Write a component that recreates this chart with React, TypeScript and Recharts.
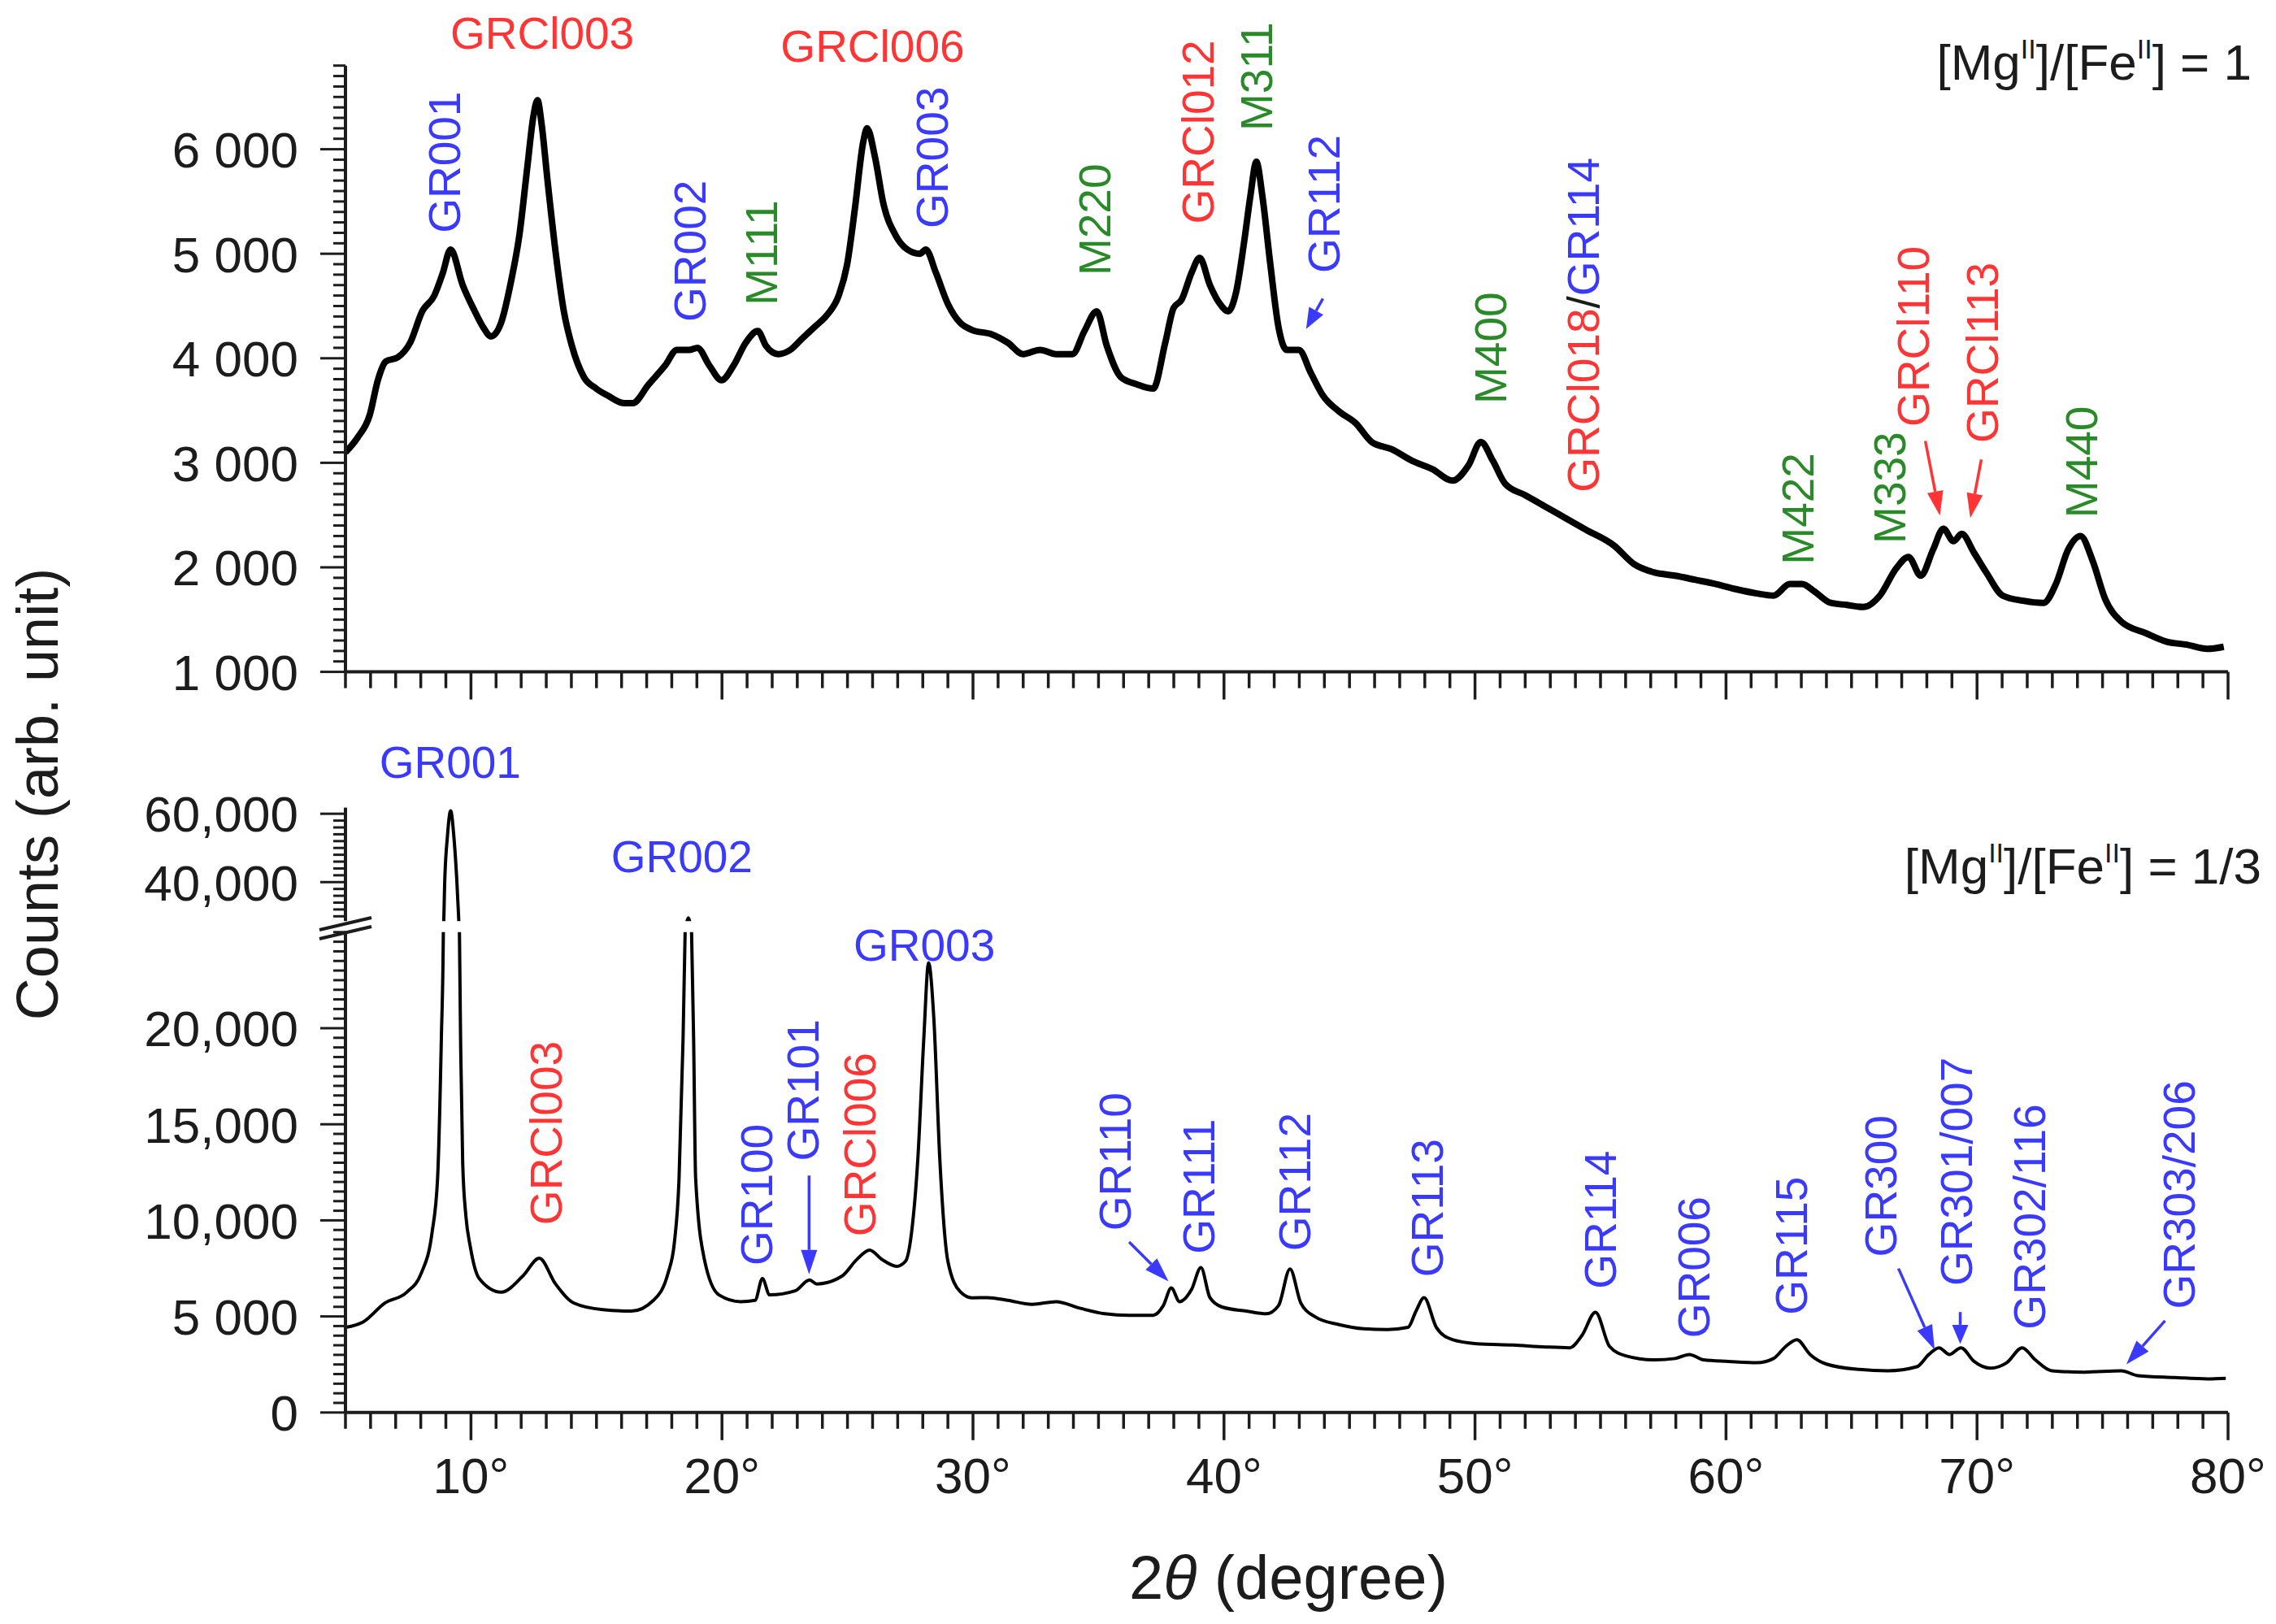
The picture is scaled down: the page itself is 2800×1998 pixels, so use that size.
import React from "react";
import { LineChart, Line, XAxis, YAxis, ReferenceDot, ReferenceLine } from "recharts";

const FONT = '"Liberation Sans", Arial, Helvetica, sans-serif';
const INK = "#1c1c1c";
const BLUE = "#3a3aff";
const RED = "#ff3434";
const GREEN = "#2a8a2a";

// [Mg]/[Fe] = 1 pattern (upper panel)
const TOP_2THETA = [
  5.0, 5.48, 5.97, 6.29, 6.61, 7.09, 7.58, 8.06, 8.54, 8.87, 9.19, 9.67, 10.15, 10.48, 10.8, 11.2, 11.6, 11.93,
  12.25, 12.49, 12.65, 12.81, 13.05, 13.38, 13.7, 14.02, 14.5, 14.99, 15.47, 16.1, 16.44, 17.08, 17.73, 18.21,
  18.69, 19.02, 19.5, 19.98, 20.46, 20.95, 21.43, 21.75, 22.24, 22.72, 23.2, 23.69, 24.17, 24.65, 24.98, 25.3,
  25.62, 25.78, 26.1, 26.43, 26.91, 27.39, 27.88, 28.12, 28.52, 29.0, 29.49, 29.97, 30.74, 31.38, 32.0, 32.67,
  33.31, 33.96, 34.44, 34.93, 35.33, 35.89, 36.54, 37.18, 37.66, 37.99, 38.31, 38.71, 39.03, 39.44, 39.84, 40.16,
  40.48, 40.8, 41.05, 41.29, 41.53, 41.85, 42.17, 42.5, 42.98, 43.46, 43.95, 44.59, 45.24, 45.88, 46.68, 47.49,
  48.3, 49.1, 49.75, 50.23, 50.71, 51.2, 52.0, 52.81, 53.61, 54.42, 55.53, 56.34, 57.16, 57.97, 58.79, 59.6,
  60.42, 61.23, 61.89, 62.54, 63.03, 63.52, 64.17, 64.82, 65.47, 66.13, 66.78, 67.27, 67.76, 68.25, 68.66, 69.06,
  69.39, 69.88, 70.37, 71.02, 71.84, 72.65, 73.14, 73.63, 74.12, 74.61, 75.1, 75.75, 76.73, 77.54, 78.36, 79.17,
  79.83,
];
const TOP_COUNTS = [
  3100, 3240, 3460, 3790, 3970, 4010, 4150, 4450, 4600, 4810, 5040, 4700, 4450, 4300, 4210, 4340, 4740, 5180,
  5840, 6320, 6470, 6250, 5700, 5000, 4450, 4120, 3820, 3710, 3640, 3570, 3570, 3750, 3930, 4080,
  4080, 4100, 3930, 3790, 3930, 4150, 4260, 4120, 4040, 4080, 4190, 4300, 4410, 4600, 4890, 5440,
  6060, 6200, 5920, 5480, 5180, 5040, 5000, 5040, 4820, 4520, 4340, 4270, 4230, 4150, 4040, 4080,
  4040, 4040, 4260, 4450, 4120, 3820, 3750, 3710, 4150, 4480, 4560, 4820, 4960, 4700, 4520, 4450,
  4630, 5110, 5550, 5880, 5550, 4890, 4300, 4080, 4080, 3860, 3640, 3490, 3380, 3200, 3130, 3020,
  2940, 2830, 2980, 3200, 3020, 2800, 2690, 2580, 2470, 2360, 2210, 2030, 1950, 1920, 1880, 1840,
  1790, 1750, 1730, 1840, 1840, 1770, 1660, 1640, 1620, 1730, 1990, 2100, 1920, 2170, 2370, 2250,
  2320, 2140, 1950, 1730, 1680, 1660, 1840, 2170, 2300, 2060, 1700, 1480, 1370, 1290, 1260, 1220,
  1240,
];

// [Mg]/[Fe] = 1/3 pattern (lower panel, broken axis)
const BOT_2THETA = [
  5.0, 5.7, 6.57, 7.44, 8.02, 8.45, 8.67, 8.82, 8.9, 8.96, 9.06, 9.19, 9.32, 9.43, 9.54, 9.59, 9.67, 9.8, 9.97,
  10.33, 11.2, 12.07, 12.72, 13.37, 14.09, 15.25, 16.4, 17.27, 17.85, 18.1, 18.29, 18.45, 18.53, 18.66, 18.79,
  18.87, 18.95, 19.3, 19.88, 20.74, 21.32, 21.61, 21.9, 22.91, 23.49, 23.78, 24.79, 25.37, 25.88, 26.38, 26.96,
  27.31, 27.55, 27.8, 28.04, 28.23, 28.44, 28.68, 29.0, 29.49,
  29.97, 30.58, 31.38, 32.35, 33.31, 34.28, 35.25, 36.21, 37.18, 37.58, 37.9, 38.23, 38.71, 39.08, 39.44, 39.92,
  40.89, 41.69, 42.17, 42.63, 43.06, 43.62, 44.59, 45.56, 46.52, 47.33, 47.65, 47.97, 48.46, 49.1, 50.07, 51.52,
  52.81, 53.77, 54.26, 54.8, 55.36, 56.01, 57.16, 57.97, 58.54, 59.11, 60.09, 61.23, 61.89, 62.38, 62.82, 63.35,
  64.0, 65.31, 66.45, 67.6, 68.08, 68.49, 68.9, 69.36, 69.88, 70.53, 71.18, 71.8, 72.32, 72.98, 74.28, 75.75,
  76.4, 77.87, 79.18, 79.91,
];
const BOT_COUNTS = [
  4430, 4710, 5700, 6260, 7250, 9370, 12190, 19460, 25050, 41380, 53210, 60900, 53210, 41380, 25050, 19000, 13000, 10200, 8660,
  6970, 6260, 7110, 8030, 6690, 5700, 5350, 5280, 5840, 7250, 8800, 12180, 19460, 24900, 29550, 24900,
  19460, 12200, 7960, 6120, 5770, 5840, 6970, 6120, 6330, 6900, 6690, 7110, 7960, 8450, 7960, 7610,
  7870, 9340, 13140, 19460, 23400, 20510, 13140, 7870, 6290,
  5970, 5980, 5840, 5630, 5770, 5420, 5140, 5060, 5060, 5560, 6480, 5770, 6410, 7540, 5980, 5490,
  5280, 5140, 5560, 7470, 5700, 4990, 4570, 4360, 4320, 4430, 5280, 5980, 4430, 3790, 3580, 3510,
  3410, 3370, 4010, 5220, 3440, 2950, 2740, 2810, 3020, 2740, 2660, 2590, 2810, 3440, 3790, 3020,
  2520, 2240, 2170, 2380, 3020, 3370, 3020, 3370, 2660, 2310, 2590, 3370, 2740, 2170, 2100, 2170,
  1920, 1820, 1750, 1780,
];

const X_MAJOR = [10, 20, 30, 40, 50, 60, 70, 80];
const X_TICKS = Array.from({ length: 76 }, (_, i) => 5 + i);

const TOP_Y_MAJOR = [1000, 2000, 3000, 4000, 5000, 6000];
const TOP_Y_LABELS = ["1 000", "2 000", "3 000", "4 000", "5 000", "6 000"];
const TOP_Y_TICKS = Array.from({ length: 59 }, (_, i) => 1000 + i * 100);

const LOW_Y_MAJOR = [0, 5000, 10000, 15000, 20000];
const LOW_Y_LABELS = ["0", "5 000", "10,000", "15,000", "20,000"];
const LOW_Y_TICKS = Array.from({ length: 51 }, (_, i) => i * 500);

const UP_Y_MAJOR = [40000, 60000];
const UP_Y_LABELS = ["40,000", "60,000"];
const UP_Y_TICKS = Array.from({ length: 16 }, (_, i) => 30000 + i * 2000);

// peak assignments: [text, 2theta, counts, colour, rotated]
const TOP_NOTES: [string, number, number, string, boolean][] = [
  ["GRCl003", 12.84, 6961, RED, false],
  ["GRCl006", 26.0, 6839, RED, false],
  ["GR001", 8.94, 5197, BLUE, true],
  ["GR002", 18.7, 4349, BLUE, true],
  ["M111", 21.55, 4505, GREEN, true],
  ["GR003", 28.35, 5243, BLUE, true],
  ["M220", 34.83, 4791, GREEN, true],
  ["GRCl012", 38.96, 5285, RED, true],
  ["M311", 41.27, 6176, GREEN, true],
  ["GR112", 43.97, 4815, BLUE, true],
  ["M400", 50.6, 3563, GREEN, true],
  ["M422", 62.84, 2026, GREEN, true],
  ["M333", 66.5, 2226, GREEN, true],
  ["GRCl110", 67.43, 3345, RED, true],
  ["GRCl113", 70.2, 3190, RED, true],
  ["M440", 74.15, 2473, GREEN, true],
];
const BOT_NOTES: [string, number, number, string, boolean][] = [
  ["GR001", 9.17, 33040, BLUE, false],
  ["GR002", 18.4, 28125, BLUE, false],
  ["GR003", 28.06, 23500, BLUE, false],
  ["GRCl003", 12.97, 9757, RED, true],
  ["GR100", 21.35, 7645, BLUE, true],
  ["GR101", 23.2, 13084, BLUE, true],
  ["GRCl006", 25.47, 9156, RED, true],
  ["GR110", 35.65, 9457, BLUE, true],
  ["GR111", 38.97, 8254, BLUE, true],
  ["GR112", 42.79, 8402, BLUE, true],
  ["GR113", 48.09, 7042, BLUE, true],
  ["GR114", 54.99, 6432, BLUE, true],
  ["GR006", 58.7, 3868, BLUE, true],
  ["GR115", 62.6, 5076, BLUE, true],
  ["GR300", 66.15, 8097, BLUE, true],
  ["GR301/007", 69.17, 6589, BLUE, true],
  ["GR302/116", 72.07, 4322, BLUE, true],
  ["GR303/206", 78.04, 5381, BLUE, true],
];
// arrows: [tail 2theta, tail counts, tip 2theta, tip counts, colour]
const TOP_ARROWS: [number, number, number, number, string][] = [
  [43.94, 4571, 43.27, 4281, BLUE],
  [67.94, 3209, 68.52, 2495, RED],
  [70.17, 3031, 69.73, 2473, RED],
];
const BOT_ARROWS: [number, number, number, number, string][] = [
  [23.47, 12330, 23.47, 7194, BLUE],
  [36.22, 8877, 37.79, 6826, BLUE],
  [66.87, 7495, 68.31, 3267, BLUE],
  [69.33, 5229, 69.33, 3568, BLUE],
  [77.49, 4775, 75.95, 2508, BLUE],
];

const topRows = TOP_2THETA.map((t, i) => ({ t, c: TOP_COUNTS[i] }));
const botRows = BOT_2THETA.map((t, i) => ({ t, c: BOT_COUNTS[i] }));

const W = 2800;
const H = 1998;
const Y_W = 200;
const MARGIN_L = 425 - Y_W;
const MARGIN_R = W - 2741;
const NOTE_FS = 55;
const TICK_FS = 62;

const xTick = (withLabels: boolean) => (p: any) => {
  const v = p.payload.value;
  const major = X_MAJOR.includes(v);
  return (
    <g>
      <line x1={p.x} y1={p.y} x2={p.x} y2={p.y + (major ? 34 : 20)} stroke={INK} strokeWidth={3.5} />
      {withLabels && major && (
        <text x={p.x} y={p.y + 99} textAnchor="middle" fontSize={TICK_FS} fontFamily={FONT} fill={INK}>
          {v}°
        </text>
      )}
    </g>
  );
};

const yTick = (majors: number[], labels: string[]) => (p: any) => {
  const idx = majors.indexOf(p.payload.value);
  const major = idx >= 0;
  return (
    <g>
      <line x1={p.x} y1={p.y} x2={p.x - (major ? 31 : 15)} y2={p.y} stroke={INK} strokeWidth={3} />
      {major && (
        <text x={p.x - 58} y={p.y} dy="0.36em" textAnchor="end" fontSize={TICK_FS} fontFamily={FONT} fill={INK}>
          {labels[idx]}
        </text>
      )}
    </g>
  );
};

function Note({ cx, cy, text, color, rot }: any) {
  if (cx == null || cy == null) return null;
  if (!rot) {
    return (
      <text x={cx} y={cy} textAnchor="middle" fontSize={NOTE_FS} fontFamily={FONT} fill={color}>
        {text}
      </text>
    );
  }
  return (
    <text
      transform={`translate(${cx + NOTE_FS * 0.36}, ${cy}) rotate(-90)`}
      textAnchor="start"
      fontSize={NOTE_FS}
      fontFamily={FONT}
      fill={color}
    >
      {text}
    </text>
  );
}

function Arrow({ x1, y1, x2, y2, color }: any) {
  if ([x1, y1, x2, y2].some((v) => v == null || isNaN(v))) return null;
  const dx = x2 - x1;
  const dy = y2 - y1;
  const len = Math.hypot(dx, dy) || 1;
  const ux = dx / len;
  const uy = dy / len;
  const head = Math.min(30, len * 0.6);
  const half = 10;
  const bx = x2 - ux * head;
  const by = y2 - uy * head;
  return (
    <g>
      <line x1={x1} y1={y1} x2={bx} y2={by} stroke={color} strokeWidth={3.5} />
      <polygon
        points={`${x2},${y2} ${bx - uy * half},${by + ux * half} ${bx + uy * half},${by - ux * half}`}
        fill={color}
      />
    </g>
  );
}

function MgLabel({ cx, cy, ratio }: any) {
  if (cx == null || cy == null) return null;
  return (
    <text x={cx} y={cy} textAnchor="end" fontSize={62} fontFamily={FONT} fill={INK}>
      [Mg
      <tspan fontSize={34} dy={-26}>
        II
      </tspan>
      <tspan dy={26}>]/[Fe</tspan>
      <tspan fontSize={34} dy={-26}>
        II
      </tspan>
      <tspan dy={26}>] = {ratio}</tspan>
    </text>
  );
}

const renderNotes = (notes: [string, number, number, string, boolean][], prefix: string) =>
  notes.map(([text, t, c, color, rot], i) => (
    <ReferenceDot
      key={`${prefix}-n-${i}`}
      x={t}
      y={c}
      r={0}
      ifOverflow="visible"
      shape={(p: any) => <Note cx={p.cx} cy={p.cy} text={text} color={color} rot={rot} />}
    />
  ));

const renderArrows = (arrows: [number, number, number, number, string][], prefix: string) =>
  arrows.map(([t1, c1, t2, c2, color], i) => (
    <ReferenceLine
      key={`${prefix}-a-${i}`}
      segment={[
        { x: t1, y: c1 },
        { x: t2, y: c2 },
      ]}
      ifOverflow="visible"
      shape={(p: any) => <Arrow x1={p.x1} y1={p.y1} x2={p.x2} y2={p.y2} color={color} />}
    />
  ));

const layer: React.CSSProperties = { position: "absolute", left: 0, top: 0 };

export default function App() {
  return (
    <div style={{ position: "absolute", left: 0, top: 0, width: W, height: H, background: "#fff", fontFamily: FONT }}>
      {/* upper panel */}
      <div style={layer}>
        <LineChart width={W} height={900} data={topRows} margin={{ top: 80.7, right: MARGIN_R, bottom: 23.4, left: MARGIN_L }}>
          <XAxis
            dataKey="t"
            type="number"
            domain={[5, 80]}
            ticks={X_TICKS}
            interval={0}
            allowDataOverflow
            height={50}
            tickSize={0}
            tickMargin={0}
            tickLine={false}
            tick={xTick(false)}
            axisLine={{ stroke: INK, strokeWidth: 4 }}
          />
          <YAxis
            type="number"
            domain={[1000, 6800]}
            ticks={TOP_Y_TICKS}
            interval={0}
            allowDataOverflow
            width={Y_W}
            tickSize={0}
            tickMargin={0}
            tickLine={false}
            tick={yTick(TOP_Y_MAJOR, TOP_Y_LABELS)}
            axisLine={{ stroke: INK, strokeWidth: 4 }}
          />
          <Line dataKey="c" type="monotone" stroke="#000" strokeWidth={8} strokeLinejoin="round" dot={false} isAnimationActive={false} />
          {renderArrows(TOP_ARROWS, "top")}
          {renderNotes(TOP_NOTES, "top")}
          <ReferenceDot
            x={54.31}
            y={2718}
            r={0}
            ifOverflow="visible"
            shape={(p: any) =>
              p.cx == null ? null : (
                <text
                  transform={`translate(${p.cx + NOTE_FS * 0.36}, ${p.cy}) rotate(-90)`}
                  fontSize={NOTE_FS}
                  fontFamily={FONT}
                >
                  <tspan fill={RED}>GRCl018</tspan>
                  <tspan fill={INK}>/</tspan>
                  <tspan fill={BLUE}>GR114</tspan>
                </text>
              )
            }
          />
          <ReferenceDot x={80.94} y={6669} r={0} ifOverflow="visible" shape={(p: any) => <MgLabel cx={p.cx} cy={p.cy} ratio="1" />} />
        </LineChart>
      </div>

      {/* lower panel, lower segment */}
      <div style={layer}>
        <LineChart width={W} height={H} data={botRows} margin={{ top: 1146.8, right: MARGIN_R, bottom: 110.2, left: MARGIN_L }}>
          <XAxis
            dataKey="t"
            type="number"
            domain={[5, 80]}
            ticks={X_TICKS}
            interval={0}
            allowDataOverflow
            height={150}
            tickSize={0}
            tickMargin={0}
            tickLine={false}
            tick={xTick(true)}
            axisLine={{ stroke: INK, strokeWidth: 4 }}
          />
          <YAxis
            type="number"
            domain={[0, 25000]}
            ticks={LOW_Y_TICKS}
            interval={0}
            allowDataOverflow
            width={Y_W}
            tickSize={0}
            tickMargin={0}
            tickLine={false}
            tick={yTick(LOW_Y_MAJOR, LOW_Y_LABELS)}
            axisLine={{ stroke: INK, strokeWidth: 4 }}
          />
          <Line dataKey="c" type="monotone" stroke="#000" strokeWidth={4} strokeLinejoin="round" dot={false} isAnimationActive={false} />
          {renderArrows(BOT_ARROWS, "bot")}
          {renderNotes(BOT_NOTES, "bot")}
          <ReferenceDot x={81.33} y={27532} r={0} ifOverflow="visible" shape={(p: any) => <MgLabel cx={p.cx} cy={p.cy} ratio="1/3" />} />
        </LineChart>
      </div>

      {/* lower panel, upper segment above the axis break */}
      <div style={layer}>
        <LineChart width={W} height={H} data={botRows} margin={{ top: 993.6, right: MARGIN_R, bottom: 864.8, left: MARGIN_L }}>
          <XAxis dataKey="t" type="number" domain={[5, 80]} allowDataOverflow hide height={0} />
          <YAxis
            type="number"
            domain={[28600, 61800]}
            ticks={UP_Y_TICKS}
            interval={0}
            allowDataOverflow
            width={Y_W}
            tickSize={0}
            tickMargin={0}
            tickLine={false}
            tick={yTick(UP_Y_MAJOR, UP_Y_LABELS)}
            axisLine={{ stroke: INK, strokeWidth: 4 }}
          />
          <Line dataKey="c" type="monotone" stroke="#000" strokeWidth={4} strokeLinejoin="round" dot={false} isAnimationActive={false} />
        </LineChart>
      </div>

      {/* axis titles and break marks */}
      <svg width={W} height={H} style={{ ...layer, pointerEvents: "none" }}>
        <line x1={393} y1={1144} x2={457} y2={1129} stroke={INK} strokeWidth={4} />
        <line x1={393} y1={1155} x2={457} y2={1140} stroke={INK} strokeWidth={4} />
        <text transform="translate(71, 977) rotate(-90)" textAnchor="middle" fontSize={72} fontFamily={FONT} fill={INK}>
          Counts (arb. unit)
        </text>
        <text x={1585} y={1967} textAnchor="middle" fontSize={76} fontFamily={FONT} fill={INK}>
          2<tspan fontStyle="italic">θ</tspan> (degree)
        </text>
      </svg>
    </div>
  );
}
